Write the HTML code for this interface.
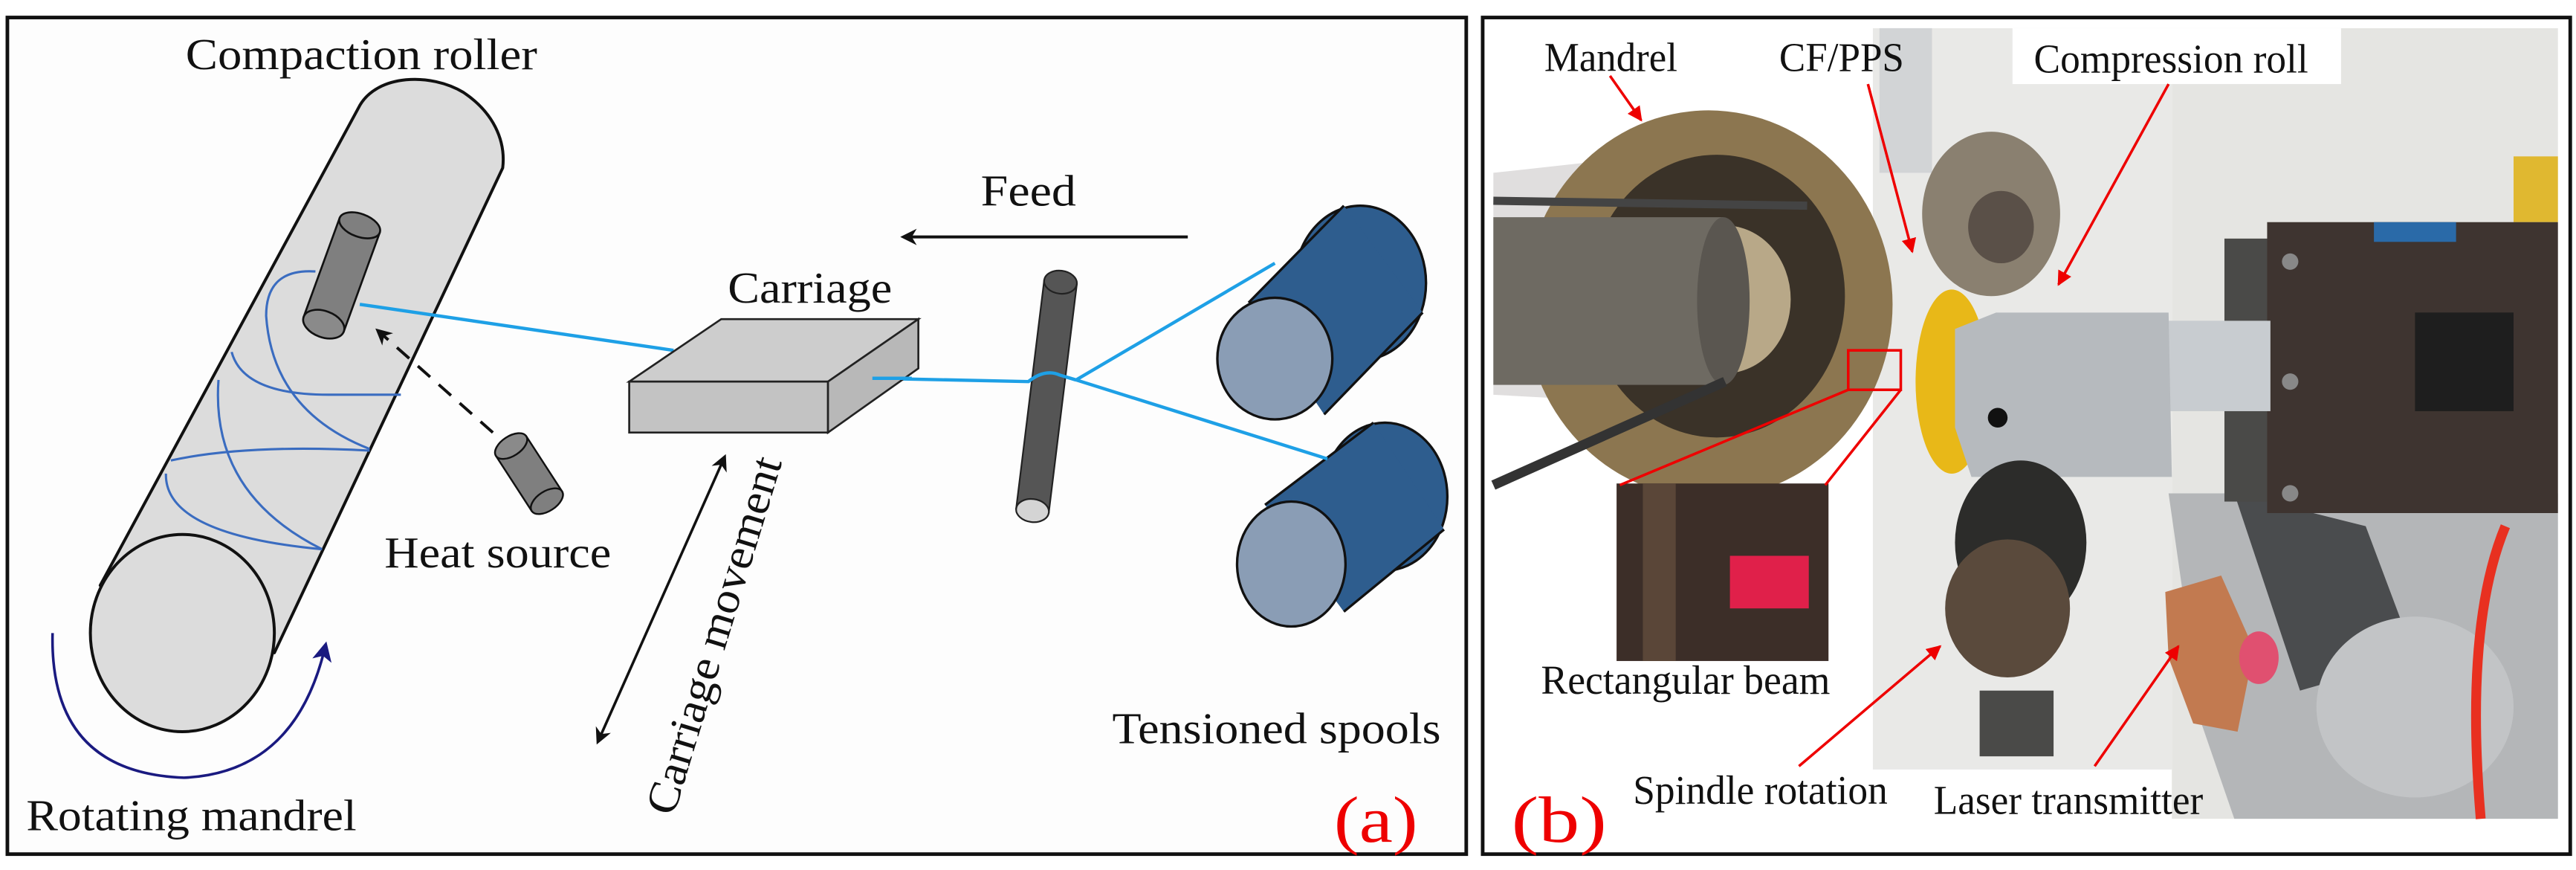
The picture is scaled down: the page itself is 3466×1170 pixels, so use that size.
<!DOCTYPE html>
<html><head><meta charset="utf-8"><style>
html,body{margin:0;padding:0;background:#fff;}
svg{display:block;}
</style></head><body>
<svg width="3466" height="1170" viewBox="0 0 1568 529" xmlns="http://www.w3.org/2000/svg">
<defs>
<marker id="ab" markerWidth="10" markerHeight="10" refX="8" refY="5" orient="auto" markerUnits="userSpaceOnUse"><path d="M0,0 L10,5 L0,10 L3,5 Z" fill="#111"/></marker>
<marker id="abs" markerWidth="10" markerHeight="10" refX="2" refY="5" orient="auto" markerUnits="userSpaceOnUse"><path d="M10,0 L0,5 L10,10 L7,5 Z" fill="#111"/></marker>
<marker id="an" markerWidth="12" markerHeight="12" refX="9" refY="6" orient="auto" markerUnits="userSpaceOnUse"><path d="M0,0 L12,6 L0,12 L3,6 Z" fill="#1a1a80"/></marker>
<marker id="ar" markerWidth="9" markerHeight="9" refX="8" refY="4.5" orient="auto" markerUnits="userSpaceOnUse"><path d="M0,0 L9,4.5 L0,9 Z" fill="#e00"/></marker>
</defs>
<rect x="0" y="0" width="1568" height="529" fill="#fff"/>
<!-- Panel (a) -->
<rect x="4.5" y="10.5" width="888" height="509" fill="#fdfdfd" stroke="#111" stroke-width="2.2"/>
<!-- mandrel -->
<path d="M219,64 C230,45 262,44 282,56 C300,68 308,85 306,102 L167,397 L61,356 Z" fill="#dcdcdc" stroke="#111" stroke-width="1.8" stroke-linejoin="round"/>
<ellipse cx="111" cy="385" rx="56" ry="60" fill="#dcdcdc" stroke="#111" stroke-width="1.8"/>
<!-- helix -->
<g fill="none" stroke="#3a6cc0" stroke-width="1.4">
<path d="M192,165 Q162,163 162,192 Q166,250 225,273"/>
<path d="M141,214 Q148,240 200,240 L244,240"/>
<path d="M133,231 Q128,300 196,334"/>
<path d="M104,280 Q150,270 225,274"/>
<path d="M101,288 Q100,325 196,334"/>
</g>
<!-- compaction roller small -->
<g transform="translate(208,167) rotate(20)">
<rect x="-13" y="-32" width="26" height="64" fill="#7f7f7f" stroke="#111" stroke-width="1.2"/>
<ellipse cx="0" cy="-32" rx="13" ry="7" fill="#7f7f7f" stroke="#111" stroke-width="1.2"/>
<ellipse cx="0" cy="32" rx="13" ry="8" fill="#8a8a8a" stroke="#111" stroke-width="1.2"/>
</g>
<!-- fiber lines -->
<path d="M219,185 L410,213" stroke="#1ea0e6" stroke-width="2" fill="none"/>
<path d="M531,230 L626,232 Q636,224 645,228 L655,231" stroke="#1ea0e6" stroke-width="2" fill="none"/>
<!-- carriage box -->
<polygon points="383,232 439,194 559,194 504,232" fill="#cdcdcd" stroke="#222" stroke-width="1.2"/>
<polygon points="383,232 504,232 504,263 383,263" fill="#c3c3c3" stroke="#222" stroke-width="1.2"/>
<polygon points="504,232 559,194 559,224 504,263" fill="#b8b8b8" stroke="#222" stroke-width="1.2"/>
<path d="M531,230 L555,230" stroke="#1ea0e6" stroke-width="2"/>
<!-- guide rod -->
<g transform="translate(637,241) rotate(7)">
<rect x="-10" y="-70" width="20" height="140" fill="#555" stroke="#222" stroke-width="1"/>
<ellipse cx="0" cy="-70" rx="10" ry="7" fill="#555" stroke="#222" stroke-width="1"/>
<ellipse cx="0" cy="70" rx="10" ry="7" fill="#d4d4d4" stroke="#222" stroke-width="1"/>
</g>
<path d="M626,232 Q636,224 645,228 L655,231" stroke="#1ea0e6" stroke-width="2" fill="none"/>
<!-- spools -->
<g stroke="#111" stroke-width="1.5" stroke-linejoin="round">
<ellipse cx="828" cy="172" rx="40" ry="47" fill="#2e5d8e"/>
<polygon points="760,184 818,125 866,190 806,252" fill="#2e5d8e" stroke="none"/>
<path d="M760,184 L818,125 M866,190 L806,252" fill="none"/>
<ellipse cx="776" cy="218" rx="35" ry="37" fill="#8a9db5"/>
<ellipse cx="843" cy="302" rx="38" ry="45" fill="#2e5d8e"/>
<polygon points="770,307 836,257 879,322 818,372" fill="#2e5d8e" stroke="none"/>
<path d="M770,307 L836,257 M879,322 L818,372" fill="none"/>
<ellipse cx="786" cy="343" rx="33" ry="38" fill="#8a9db5"/>
</g>
<path d="M655,231 L776,160 M655,231 L808,279" stroke="#1ea0e6" stroke-width="2" fill="none"/>
<!-- feed arrow -->
<line x1="723" y1="144" x2="550" y2="144" stroke="#111" stroke-width="1.8" marker-end="url(#ab)"/>
<!-- heat source -->
<g transform="translate(322,288) rotate(-33)">
<rect x="-11" y="-20" width="22" height="40" fill="#7f7f7f" stroke="#111" stroke-width="1.1"/>
<ellipse cx="0" cy="-20" rx="11" ry="6" fill="#8a8a8a" stroke="#111" stroke-width="1.1"/>
<ellipse cx="0" cy="20" rx="11" ry="6" fill="#7f7f7f" stroke="#111" stroke-width="1.1"/>
</g>
<line x1="300" y1="263" x2="230" y2="201" stroke="#111" stroke-width="1.8" stroke-dasharray="10,7" marker-end="url(#ab)"/>
<!-- carriage movement -->
<line x1="441" y1="278" x2="364" y2="451" stroke="#111" stroke-width="1.6" marker-start="url(#abs)" marker-end="url(#ab)"/>
<!-- rotation arrow -->
<path d="M32,385 Q30,470 112,473 Q180,470 198,393" fill="none" stroke="#1a1a80" stroke-width="1.6" marker-end="url(#an)"/>

<!-- Panel (b) -->
<rect x="902.5" y="10.5" width="662" height="509" fill="#fff" stroke="#111" stroke-width="2.2"/>
<rect x="1140" y="17" width="182" height="451" fill="#e9e9e7"/>
<rect x="1144" y="17" width="32" height="88" fill="#d2d4d6"/>
<rect x="1322" y="17" width="235" height="481" fill="#e5e5e2"/>
<rect x="1530" y="95" width="27" height="40" fill="#e0b830"/>
<rect x="1225" y="17" width="200" height="34" fill="#fff"/>
<polygon points="1320,300 1557,300 1557,498 1360,498 1340,440" fill="#b4b6b8"/>
<polygon points="1360,300 1440,320 1470,400 1400,420" fill="#4a4c4e"/>
<ellipse cx="1470" cy="430" rx="60" ry="55" fill="#c2c4c6"/>
<path d="M1525,320 Q1500,380 1510,498" stroke="#e83020" stroke-width="6" fill="none"/>
<polygon points="1318,360 1352,350 1372,395 1362,445 1335,440 1320,400" fill="#c27a50"/>
<ellipse cx="1375" cy="400" rx="12" ry="16" fill="#e05070"/>
<rect x="1354" y="145" width="36" height="160" fill="#4a4a48"/>
<rect x="1380" y="135" width="177" height="177" fill="#3e3430"/>
<rect x="1470" y="190" width="60" height="60" fill="#1e1e1e"/>
<circle cx="1394" cy="159" r="5" fill="#888"/><circle cx="1394" cy="232" r="5" fill="#888"/><circle cx="1394" cy="300" r="5" fill="#888"/>
<rect x="1445" y="135" width="50" height="12" fill="#2a6aa8"/>
<rect x="1320" y="195" width="62" height="55" fill="#c8ccd0"/>
<ellipse cx="1212" cy="130" rx="42" ry="50" fill="#8a8070"/>
<ellipse cx="1218" cy="138" rx="20" ry="22" fill="#5a5048"/>
<ellipse cx="1188" cy="232" rx="22" ry="56" fill="#e8b818"/>
<polygon points="1190,200 1215,190 1320,190 1322,290 1200,290 1190,260" fill="#b6babe"/>
<circle cx="1216" cy="254" r="6" fill="#111"/>
<ellipse cx="1230" cy="330" rx="40" ry="50" fill="#2c2c2a"/>
<ellipse cx="1222" cy="370" rx="38" ry="42" fill="#5a4a3c"/>
<rect x="1205" y="420" width="45" height="40" fill="#4a4a48"/>
<polygon points="909,105 1000,95 1000,245 909,240" fill="#e0dede"/>
<ellipse cx="1040" cy="185" rx="112" ry="118" fill="#8c7650"/>
<ellipse cx="1045" cy="180" rx="78" ry="86" fill="#3a3228"/>
<ellipse cx="1050" cy="182" rx="40" ry="45" fill="#b8a888"/>
<rect x="909" y="132" width="140" height="102" fill="#6e6a62"/>
<ellipse cx="1049" cy="183" rx="16" ry="51" fill="#5a5650"/>
<line x1="909" y1="122" x2="1100" y2="125" stroke="#444" stroke-width="5"/>
<line x1="909" y1="295" x2="1050" y2="232" stroke="#333" stroke-width="6"/>
<rect x="984" y="294" width="129" height="108" fill="#3c2e28"/>
<rect x="1000" y="294" width="20" height="108" fill="#5a4638"/>
<rect x="1053" y="338" width="48" height="32" fill="#e0204a"/>
<g stroke="#e00" stroke-width="1.6" fill="none">
<line x1="980" y1="46" x2="999" y2="73" marker-end="url(#ar)"/>
<line x1="1137" y1="51" x2="1164" y2="153" marker-end="url(#ar)"/>
<line x1="1320" y1="51" x2="1253" y2="173" marker-end="url(#ar)"/>
<rect x="1125" y="213" width="32" height="24"/>
<line x1="1125" y1="237" x2="986" y2="295"/>
<line x1="1157" y1="237" x2="1111" y2="295"/>
<line x1="1095" y1="466" x2="1181" y2="393" marker-end="url(#ar)"/>
<line x1="1275" y1="466" x2="1326" y2="393" marker-end="url(#ar)"/>
</g>

<g font-family="'Liberation Serif', 'DejaVu Serif', serif" fill="#111">
<text x="113" y="42" font-size="27" textLength="214" lengthAdjust="spacingAndGlyphs">Compaction roller</text>
<text x="597" y="125" font-size="27" textLength="58" lengthAdjust="spacingAndGlyphs">Feed</text>
<text x="443" y="184" font-size="27" textLength="100" lengthAdjust="spacingAndGlyphs">Carriage</text>
<text x="234" y="345" font-size="27" textLength="138" lengthAdjust="spacingAndGlyphs">Heat source</text>
<text x="677" y="452" font-size="27" textLength="200" lengthAdjust="spacingAndGlyphs">Tensioned spools</text>
<text x="16" y="505" font-size="27" textLength="201" lengthAdjust="spacingAndGlyphs">Rotating mandrel</text>
<text transform="translate(410,497) rotate(-73)" font-size="27" textLength="226" lengthAdjust="spacingAndGlyphs">Carriage movement</text>
<text x="812" y="512" font-size="40" fill="#e00" textLength="51" lengthAdjust="spacingAndGlyphs">(a)</text>
<text x="940" y="43" font-size="25" textLength="81" lengthAdjust="spacingAndGlyphs">Mandrel</text>
<text x="1083" y="43" font-size="25" textLength="76" lengthAdjust="spacingAndGlyphs">CF/PPS</text>
<text x="1238" y="44" font-size="25" textLength="167" lengthAdjust="spacingAndGlyphs">Compression roll</text>
<text x="938" y="422" font-size="25" textLength="176" lengthAdjust="spacingAndGlyphs">Rectangular beam</text>
<text x="994" y="489" font-size="25" textLength="155" lengthAdjust="spacingAndGlyphs">Spindle rotation</text>
<text x="1177" y="495" font-size="25" textLength="164" lengthAdjust="spacingAndGlyphs">Laser transmitter</text>
<text x="920" y="512" font-size="40" fill="#e00" textLength="58" lengthAdjust="spacingAndGlyphs">(b)</text>
</g>
</svg>
</body></html>
